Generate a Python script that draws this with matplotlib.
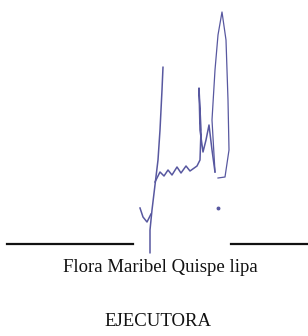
import matplotlib.pyplot as plt

# signature strokes, pixel coords of the image (y goes down)
stem_x = [163, 162, 161, 160, 158, 155, 152, 150, 150]
stem_y = [67, 90, 110, 130, 160, 185, 210, 230, 253]

hook_x = [140, 143, 147, 151]
hook_y = [208, 217, 222, 214]

wave_x = [155, 160, 164, 168, 172, 177, 181, 186, 190, 197, 200, 201, 199, 200, 203, 206, 209, 212, 215]
wave_y = [182, 172, 176, 170, 175, 167, 173, 166, 171, 166, 160, 130, 88, 130, 152, 140, 125, 150, 172]

loop_x = [215, 212, 215, 218, 222, 226, 228, 229, 225, 218]
loop_y = [172, 120, 70, 35, 12, 40, 100, 150, 177, 178]

dot = (218, 208)

rule_left = (7, 133)
rule_right = (231, 308)
rule_y = 244

name = "Flora Maribel Quispe lipa"
role = "EJECUTORA"

fig = plt.figure(figsize=(3.08, 3.36), dpi=100)
ax = fig.add_axes([0, 0, 1, 1])
ax.set_xlim(0, 308)
ax.set_ylim(336, 0)
ax.axis('off')

ink = '#5858a0'
ax.plot(stem_x, stem_y, color=ink, lw=1.1, solid_capstyle='round')
ax.plot(hook_x, hook_y, color=ink, lw=1.1)
ax.plot(wave_x, wave_y, color=ink, lw=1.1)
ax.plot(loop_x, loop_y, color=ink, lw=0.9)
ax.plot([dot[0]], [dot[1]], 'o', color=ink, ms=1.8)

ax.plot(rule_left, [rule_y, rule_y], color='#111111', lw=1.6)
ax.plot(rule_right, [rule_y, rule_y], color='#111111', lw=1.6)

ax.text(160, 268, name, ha='center', va='center', fontsize=13.5,
        family='Liberation Serif', color='#111111')
ax.text(158, 321, role, ha='center', va='center', fontsize=13.5,
        family='Liberation Serif', color='#111111')

fig.savefig('out.png', dpi=100)
